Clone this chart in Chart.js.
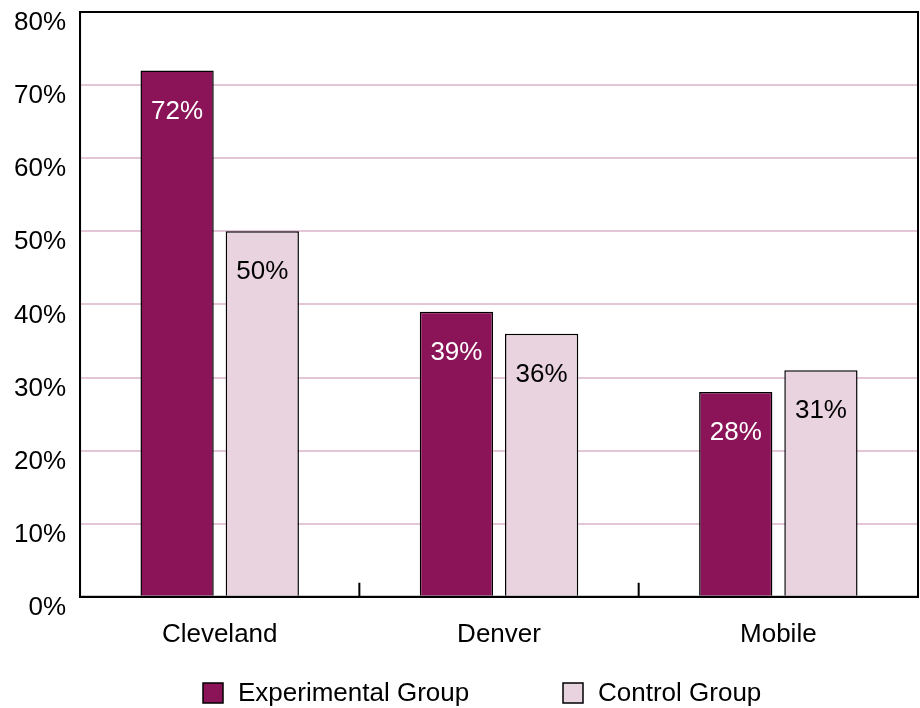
<!DOCTYPE html>
<html>
<head>
<meta charset="utf-8">
<script src="https://cdn.jsdelivr.net/npm/chart.js@4/dist/chart.umd.min.js"></script>
<style>
  html, body { margin: 0; padding: 0; background: #fff; }
  #wrap { width: 920px; height: 708px; }
</style>
</head>
<body>
<div id="wrap"><canvas id="graphCanvas" width="920" height="708"></canvas></div>
<script>
// data
const cities = ['Cleveland', 'Denver', 'Mobile'];
const experimental = [72, 39, 28];
const control = [50, 36, 31];
const seriesNames = ['Experimental Group', 'Control Group'];

const darkColor = '#8b1458';
const lightColor = '#e8d3de';
const fontFamily = '"Liberation Sans", Arial, sans-serif';

// box round the plot, little ticks between categories, value labels, legend
const framePlugin = {
    id: 'frame',
    afterDraw(chart) {
        const ctx = chart.ctx;
        const a = chart.chartArea;
        const x = chart.scales.x;
        ctx.save();
        ctx.strokeStyle = '#000';
        ctx.lineWidth = 2;
        ctx.strokeRect(a.left, a.top, a.right - a.left, a.bottom - a.top);
        ctx.beginPath();
        for (let i = 1; i < cities.length; i++) {
            const px = (x.getPixelForValue(i - 1) + x.getPixelForValue(i)) / 2;
            ctx.moveTo(px, a.bottom);
            ctx.lineTo(px, a.bottom - 14);
        }
        ctx.stroke();

        // value labels inside bars
        ctx.font = '26px ' + fontFamily;
        ctx.textAlign = 'center';
        ctx.textBaseline = 'middle';
        chart.data.datasets.forEach((ds, di) => {
            const meta = chart.getDatasetMeta(di);
            meta.data.forEach((bar, i) => {
                ctx.fillStyle = di === 0 ? '#fff' : '#000';
                ctx.fillText(ds.data[i] + '%', bar.x, bar.y + 41);
            });
        });

        // legend at the foot
        const legendX = [203, 563];
        const boxSize = 20;
        const legendY = 683;
        ctx.textAlign = 'left';
        chart.data.datasets.forEach((ds, di) => {
            ctx.fillStyle = ds.backgroundColor;
            ctx.fillRect(legendX[di], legendY, boxSize, boxSize);
            ctx.lineWidth = 1.5;
            ctx.strokeStyle = '#000';
            ctx.strokeRect(legendX[di], legendY, boxSize, boxSize);
            ctx.fillStyle = '#000';
            ctx.fillText(ds.label, legendX[di] + 35, legendY + boxSize / 2 + 1);
        });
        ctx.restore();
    }
};

const ctx = document.getElementById('graphCanvas').getContext('2d');
window.myChart = new Chart(ctx, {
    type: 'bar',
    data: {
        labels: cities,
        datasets: [{
            label: seriesNames[0],
            data: experimental,
            backgroundColor: darkColor,
            borderColor: '#000',
            borderWidth: 1.5,
            categoryPercentage: 0.61,
            barPercentage: 0.86
        }, {
            label: seriesNames[1],
            data: control,
            backgroundColor: lightColor,
            borderColor: '#000',
            borderWidth: 1.5,
            categoryPercentage: 0.61,
            barPercentage: 0.86
        }]
    },
    options: {
        responsive: false,
        animation: false,
        layout: { padding: { top: 12, right: 2, left: 0, bottom: 36 } },
        scales: {
            x: {
                grid: { display: false, drawTicks: false },
                border: { color: '#000', width: 2 },
                ticks: {
                    color: '#000',
                    padding: 22,
                    font: { family: fontFamily, size: 26 }
                }
            },
            y: {
                min: 0,
                max: 80,
                grid: { color: '#e4c6d6', lineWidth: 2, drawTicks: false },
                border: { color: '#000', width: 2 },
                afterFit(scale) {
                    // labels sit below their lines, so no room is needed above
                    scale.paddingTop = 0;
                    scale.paddingBottom = 0;
                },
                ticks: {
                    stepSize: 10,
                    color: '#000',
                    padding: 14,
                    labelOffset: 11,
                    font: { family: fontFamily, size: 26 },
                    callback: v => v + '%'
                }
            }
        },
        plugins: {
            legend: { display: false },
            tooltip: { enabled: false }
        }
    },
    plugins: [framePlugin]
});
</script>
</body>
</html>
